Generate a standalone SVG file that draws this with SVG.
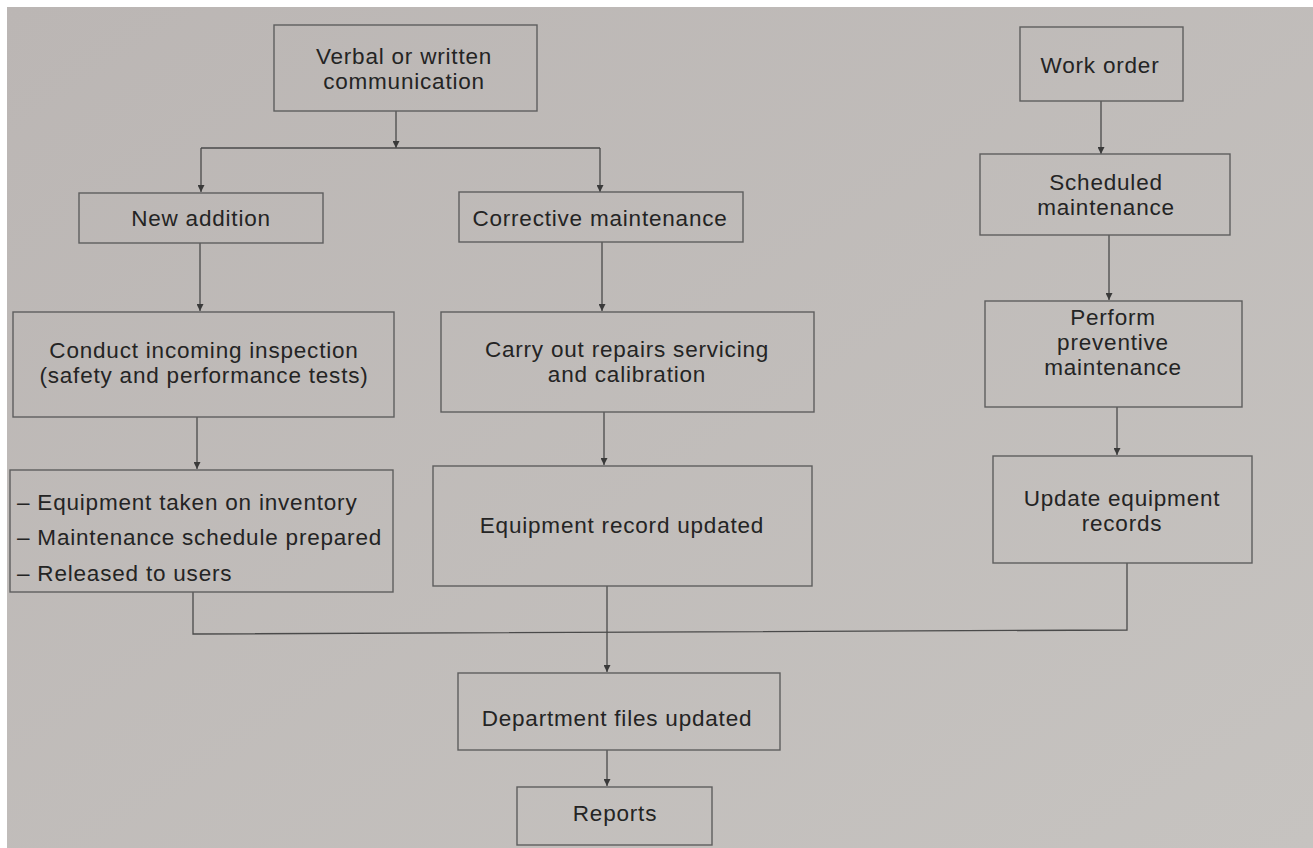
<svg xmlns="http://www.w3.org/2000/svg" width="1313" height="848" viewBox="0 0 1313 848">
<defs>
<linearGradient id="bg" x1="0" y1="0" x2="1" y2="1">
<stop offset="0" stop-color="#bbb6b4"/>
<stop offset="1" stop-color="#c6c3c0"/>
</linearGradient>
<marker id="ah" viewBox="0 0 10 10" refX="10" refY="5" markerWidth="7" markerHeight="7" markerUnits="userSpaceOnUse" orient="auto">
<path d="M0,0 L10,5 L0,10 Z" fill="#3a3a3a"/>
</marker>
<style>
.box{fill:none;stroke:#5e5e5e;stroke-width:1.4}
.t{font-family:"Liberation Sans",Arial,sans-serif;font-size:22.5px;fill:#242424;text-anchor:middle;letter-spacing:0.8px}
.tl{font-family:"Liberation Sans",Arial,sans-serif;font-size:22.5px;fill:#242424;letter-spacing:0.8px}
.c{fill:none;stroke:#4a4a4a;stroke-width:1.3}
.a{fill:none;stroke:#4a4a4a;stroke-width:1.3;marker-end:url(#ah)}
</style>
</defs>
<rect x="0" y="0" width="1313" height="848" fill="#ffffff"/>
<rect x="7" y="7" width="1306" height="841" fill="url(#bg)"/>

<g id="connectors">
<line class="a" x1="396" y1="111" x2="396" y2="148"/>
<line class="c" x1="201" y1="148" x2="600" y2="148"/>
<line class="a" x1="201" y1="148" x2="201" y2="192"/>
<line class="a" x1="600" y1="148" x2="600" y2="192"/>
<line class="a" x1="200" y1="243" x2="200" y2="311"/>
<line class="a" x1="602" y1="242" x2="602" y2="311"/>
<line class="a" x1="197" y1="417" x2="197" y2="469"/>
<line class="a" x1="604" y1="412" x2="604" y2="465"/>
<line class="a" x1="1101" y1="101" x2="1101" y2="154"/>
<line class="a" x1="1109" y1="235" x2="1109" y2="300"/>
<line class="a" x1="1117" y1="407" x2="1117" y2="455"/>
<polyline class="c" points="193,592 193,634 1127,630 1127,563"/>
<line class="a" x1="607" y1="586" x2="607" y2="672"/>
<line class="a" x1="607" y1="750" x2="607" y2="786"/>
</g>

<g id="verbal">
<rect class="box" x="274" y="25" width="263" height="86"/>
<text class="t" x="404" y="64">Verbal or written</text>
<text class="t" x="404" y="89">communication</text>
</g>
<g id="new-addition">
<rect class="box" x="79" y="193" width="244" height="50"/>
<text class="t" x="201" y="226">New addition</text>
</g>
<g id="corrective">
<rect class="box" x="459" y="192" width="284" height="50"/>
<text class="t" x="600" y="226">Corrective maintenance</text>
</g>
<g id="conduct">
<rect class="box" x="13" y="312" width="381" height="105"/>
<text class="t" x="204" y="358">Conduct incoming inspection</text>
<text class="t" x="204" y="383">(safety and performance tests)</text>
</g>
<g id="carry">
<rect class="box" x="441" y="312" width="373" height="100"/>
<text class="t" x="627" y="357">Carry out repairs servicing</text>
<text class="t" x="627" y="382">and calibration</text>
</g>
<g id="inventory">
<rect class="box" x="10" y="470" width="383" height="122"/>
<text class="tl" x="17" y="510">– Equipment taken on inventory</text>
<text class="tl" x="17" y="545">– Maintenance schedule prepared</text>
<text class="tl" x="17" y="581">– Released to users</text>
</g>
<g id="equipment-record">
<rect class="box" x="433" y="466" width="379" height="120"/>
<text class="t" x="622" y="533">Equipment record updated</text>
</g>
<g id="work-order">
<rect class="box" x="1020" y="27" width="163" height="74"/>
<text class="t" x="1100" y="73">Work order</text>
</g>
<g id="scheduled">
<rect class="box" x="980" y="154" width="250" height="81"/>
<text class="t" x="1106" y="190">Scheduled</text>
<text class="t" x="1106" y="215">maintenance</text>
</g>
<g id="perform">
<rect class="box" x="985" y="301" width="257" height="106"/>
<text class="t" x="1113" y="325">Perform</text>
<text class="t" x="1113" y="350">preventive</text>
<text class="t" x="1113" y="375">maintenance</text>
</g>
<g id="update">
<rect class="box" x="993" y="456" width="259" height="107"/>
<text class="t" x="1122" y="506">Update equipment</text>
<text class="t" x="1122" y="531">records</text>
</g>
<g id="department">
<rect class="box" x="458" y="673" width="322" height="77"/>
<text class="t" x="617" y="726">Department files updated</text>
</g>
<g id="reports">
<rect class="box" x="517" y="787" width="195" height="58"/>
<text class="t" x="615" y="821">Reports</text>
</g>
</svg>
